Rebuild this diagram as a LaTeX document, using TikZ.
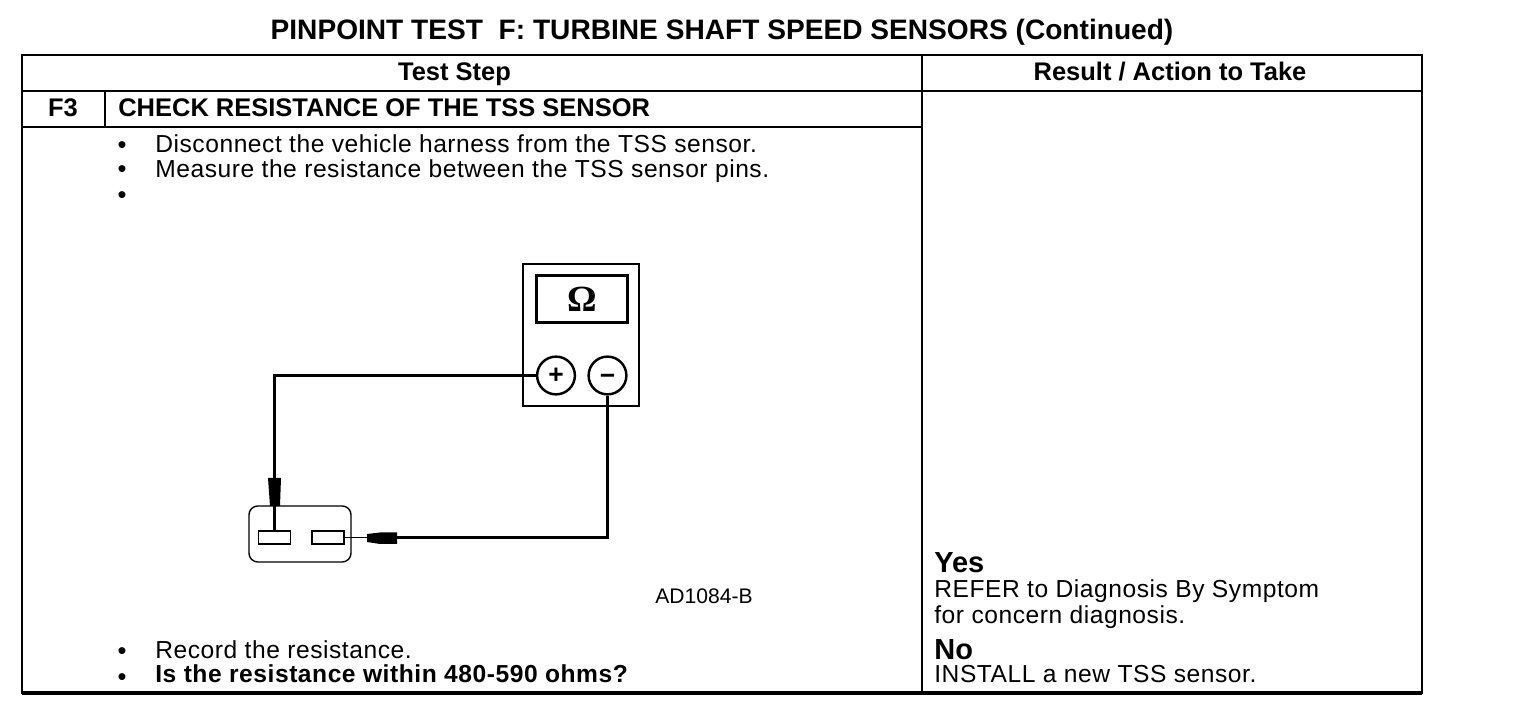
\documentclass[tikz,border=0pt]{standalone}
\usepackage{fontspec}
\setmainfont{Liberation Sans}
\newfontfamily\omegafont{Liberation Serif}
\newfontfamily\widefont[LetterSpace=2.2]{Liberation Sans}
\tikzset{txt/.style = {anchor=base west, inner sep=0pt, font=\widefont\fontsize{14}{16}\selectfont},
         boldtxt/.style = {txt, font=\widefont\fontsize{14}{16}\selectfont\bfseries},
         bigtxt/.style = {txt, font=\fontsize{16.5}{18}\selectfont\bfseries},
         dot/.style = {anchor=base, inner sep=0pt, font=\fontsize{14.5}{16}\selectfont},
         headtxt/.style = {anchor=base, inner sep=0pt, font=\fontsize{14.5}{16}\selectfont\bfseries},
         rule/.style = {line width=1.2pt},
         wire/.style = {line width=1.5pt},
         jack/.style = {draw, circle, line width=1.4pt, minimum size=21.5pt, inner sep=0pt, font=\fontsize{15}{16}\selectfont\bfseries},
         pin/.style = {draw, line width=0.8pt, minimum width=18pt, minimum height=7.2pt, inner sep=0pt}}

\begin{document}
\begin{tikzpicture}[x=0.02cm,y=-0.02cm]
\useasboundingbox (0,0) rectangle (1536,702);
% table
\draw [rule] (22,55) rectangle (1422,693);
\draw [rule] (22,91) -- (1422,91);
\draw [rule] (22,127) -- (922,127);
\draw [rule] (922,55) -- (922,693);
\draw [rule] (105,91) -- (105,127);
\draw [line width=1.8pt] (22,693) -- (1422,693);
% headings
\node [headtxt, font=\fontsize{16}{18}\selectfont\bfseries] (title) at (722,40) {PINPOINT TEST\ \ F: TURBINE SHAFT SPEED SENSORS (Continued)};
\node [headtxt] (teststep) at (454.5,81) {Test Step};
\node [headtxt] (result) at (1170,81) {Result / Action to Take};
\node [headtxt] (stepno) at (63,117) {F3};
\node [headtxt, anchor=base west] (steptitle) at (118,117) {CHECK RESISTANCE OF THE TSS SENSOR};
% instructions
\node [dot] (bulleta) at (122,153.5) {\textbullet};
\node [txt] (disconnect) at (155,153) {Disconnect the vehicle harness from the TSS sensor.};
\node [dot] (bulletb) at (122,178) {\textbullet};
\node [txt] (measure) at (155,178) {Measure the resistance between the TSS sensor pins.};
\node [dot] (bulletc) at (122,204) {\textbullet};
\node [dot] (bulletd) at (122,660) {\textbullet};
\node [txt] (record) at (155,659) {Record the resistance.};
\node [dot] (bullete) at (122,685) {\textbullet};
\node [boldtxt] (question) at (155,683) {Is the resistance within 480-590 ohms?};
% results
\node [bigtxt] (yes) at (934,573) {Yes};
\node [txt] (refer) at (934,598) {REFER to Diagnosis By Symptom};
\node [txt] (concern) at (934,623) {for concern diagnosis.};
\node [bigtxt] (no) at (934,660) {No};
\node [txt] (install) at (934,683) {INSTALL a new TSS sensor.};
% meter
\draw [line width=1.5pt] (523,264) rectangle (639,406);
\node [draw, line width=1.4pt, minimum width=52pt, minimum height=27pt, inner sep=0pt, font=\omegafont\fontsize{21}{22}\selectfont\bfseries] (display) at (582,299) {Ω};
\node [jack] (plus) at (556,375.5) {+};
\node [jack] (minus) at (607.5,375.5) {\smash{\raisebox{-.33em}{\textminus}}};
% sensor
\draw [line width=0.8pt, rounded corners=5pt] (249,506) rectangle (351,562);
\node [pin] (pina) at (274.5,537.5) {};
\node [pin] (pinb) at (328,537.5) {};
% leads
\coordinate (tipb) at (397,537.5);
\draw [wire] (plus.west) -| (pina.north);
\draw [wire] (minus.south) |- (tipb);
\draw [line width=1pt] (tipb) -- (pinb.east);
\fill (268,478) -- (281,478) -- (280,506) -- (270,506) -- cycle;
\fill (367,534) -- (380,532.5) -- (397,532.5) -- (397,544) -- (380,544) -- (367,542) -- cycle;
\node [txt, font=\fontsize{12}{14}\selectfont] (partno) at (655,603) {AD1084-B};
\end{tikzpicture}
\end{document}
